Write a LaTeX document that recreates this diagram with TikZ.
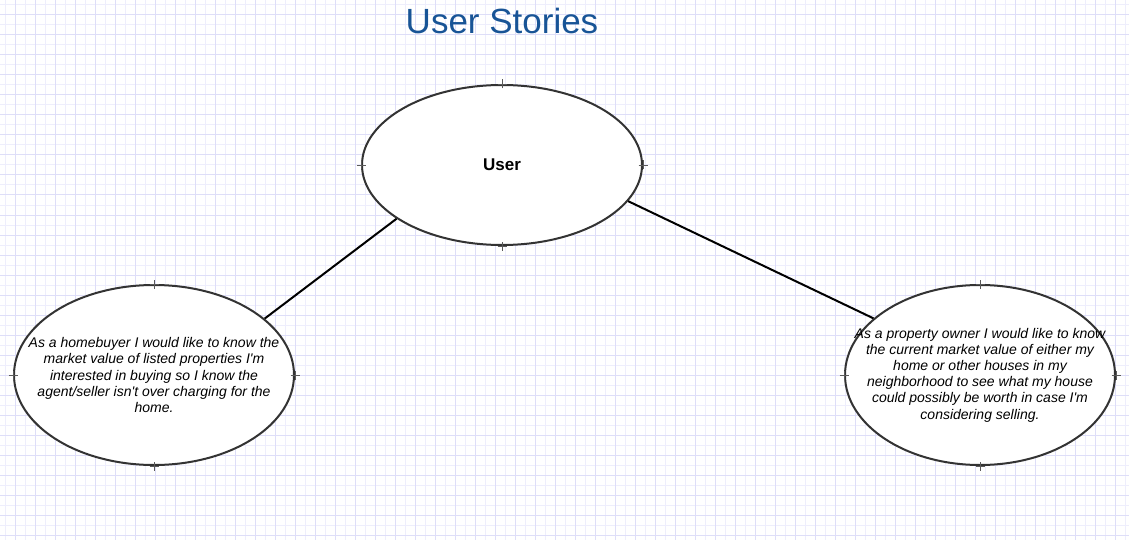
\documentclass[tikz,border=0pt]{standalone}
\usepackage{fontspec}
\setmainfont{Liberation Sans}
\usetikzlibrary{shapes.geometric}
\definecolor{titleblue}{RGB}{24,84,150}
\definecolor{gridlight}{RGB}{238,238,252}
\definecolor{gridstrong}{RGB}{222,222,248}
\definecolor{edgegray}{RGB}{51,51,51}
\definecolor{crossgray}{RGB}{90,90,90}
\begin{document}
\begin{tikzpicture}[x=1pt,y=-1pt,
  story/.style={ellipse,draw=edgegray,line width=2pt,fill=white,inner sep=0pt},
  storytext/.style={align=center,font=\fontsize{14}{16.2}\selectfont\itshape,inner sep=0pt},
  conn/.style={draw=black,line width=2pt},
  crossmark/.style={draw=crossgray,line width=0.9pt}]
\useasboundingbox (0,0) rectangle (1129,540);
\fill[white] (0,0) rectangle (1129,540);
% grid
\foreach \x in {5,25,...,1125} \draw[gridlight,line width=1pt] (\x,0) -- (\x,540);
\foreach \y in {5,25,...,535} \draw[gridlight,line width=1pt] (0,\y) -- (1129,\y);
\foreach \x in {15,35,...,1125} \draw[gridstrong,line width=1pt] (\x,0) -- (\x,540);
\foreach \y in {15,35,...,535} \draw[gridstrong,line width=1pt] (0,\y) -- (1129,\y);
% title
\node[font=\fontsize{35}{40}\selectfont,text=titleblue,inner sep=0pt] (title) at (502,21) {User Stories};
% ellipses
\node[story,minimum width=280pt,minimum height=160pt] (user) at (502,165) {};
\node[story,minimum width=280pt,minimum height=180pt] (buyer) at (154,375) {};
\node[story,minimum width=270pt,minimum height=180pt] (owner) at (980,375) {};
% connectors
\draw[conn] (user.207.5) -- (buyer.27.8);
\draw[conn] (user.344.5) -- (owner.152);
% crosses
\foreach \n in {user,buyer,owner}{
  \foreach \a in {north,south,east,west}{
    \draw[crossmark] ([xshift=-4.5pt]\n.\a) -- ([xshift=4.5pt]\n.\a);
    \draw[crossmark] ([yshift=-4.5pt]\n.\a) -- ([yshift=4.5pt]\n.\a);
  }
}
% texts
\node[font=\fontsize{17}{20}\selectfont\bfseries,inner sep=0pt] (usertext) at (user.center) {User};
\node[storytext] (buyertext) at (buyer.center) {As a homebuyer I would like to know the\\market value of listed properties I\textquotesingle m\\interested in buying so I know the\\agent/seller isn\textquotesingle t over charging for the\\home.};
\node[storytext] (ownertext) at (owner.center) {As a property owner I would like to know\\the current market value of either my\\home or other houses in my\\neighborhood to see what my house\\could possibly be worth in case I\textquotesingle m\\considering selling.};
\end{tikzpicture}
\end{document}
